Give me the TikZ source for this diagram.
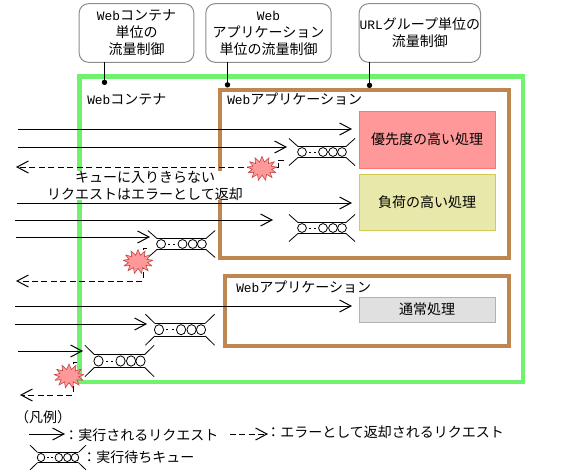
\documentclass[tikz,border=0pt]{standalone}
\usepackage{fontspec}
\setmainfont{Noto Sans CJK JP}
\newfontfamily\latinmono[Scale=0.92]{Liberation Mono}
\newcommand{\lat}[1]{{\latinmono #1}}
\usetikzlibrary{positioning,arrows.meta,shapes.symbols}
\definecolor{verde}{HTML}{6FF36F}
\definecolor{marrom}{HTML}{C0864F}
\definecolor{rosa}{HTML}{FF9999}
\definecolor{rubro}{HTML}{C84C4C}
\definecolor{amarelo}{HTML}{E8E8AA}
\definecolor{cinza}{HTML}{E0E0E0}
\tikzset{
  queue/.pic={
    \draw[line width=.75pt] (-24,-5.5) -- (24,-5.5) (-24,5.5) -- (24,5.5);
    \draw[line width=.6pt] (-33,-13.5) -- (-24,-5.5) (33,-13.5) -- (24,-5.5)
      (-33,13.5) -- (-24,5.5) (33,13.5) -- (24,5.5);
    \foreach \c in {-20,1,11,20} \draw[line width=.6pt] (\c,0) circle[radius=4.4];
    \draw[line width=.75pt] (-13,0) -- (-11,0) (-8,0) -- (-6,0);
  }
}
\begin{document}
\begin{tikzpicture}[x=0.75pt,y=-0.75pt,node distance=9pt,
  txt/.style={font=\fontsize{10.5pt}{12.75pt}\selectfont,inner sep=0pt,align=center},
  callout/.style={txt,rectangle,rounded corners=7pt,draw=black!45,line width=.75pt,minimum height=44pt,outer sep=0pt},
  task/.style={txt,rectangle,line width=.75pt,minimum width=102pt,outer sep=0pt},
  frameg/.style={rectangle,draw=verde,line width=3.4pt,outer sep=0pt},
  framem/.style={rectangle,draw=marrom,line width=3.4pt,outer sep=0pt},
  pinline/.style={-{Circle[length=4pt]},line width=.75pt},
  reqarrow/.style={-{Straight Barb[length=8.5pt,width=9pt]},line width=.75pt},
  errarrow/.style={-{Straight Barb[length=8.5pt,width=9pt]},line width=.75pt,dash pattern=on 4.5pt off 2.6pt},
  burst/.style={starburst,starburst points=13,starburst point height=4pt,random starburst=0,
    fill=rosa,draw=rubro,line width=.5pt,miter limit=3,minimum width=22.5pt,minimum height=18pt,inner sep=0pt}]
\useasboundingbox (0,0) rectangle (564,475);
\node[frameg,minimum width=332.6pt,minimum height=229.1pt] (container) at (301.25,229.25) {};
\node[framem,minimum width=216.75pt,minimum height=126pt] (appa) at (364.5,174) {};
\node[framem,minimum width=213pt,minimum height=52.5pt] (appb) at (367,311) {};
% callouts on top
\node[callout,minimum width=86pt] (unitc) at (136.5,33) {\lat{Web}コンテナ\\単位の\\流量制御};
\node[callout,minimum width=94pt,right=of unitc] (unita) {\lat{Web}\\アプリケーション\\単位の流量制御};
\node[callout,minimum width=91pt,right=21pt of unita] (unitu) {\lat{URL}グループ単位の\\流量制御};
\foreach \n/\px/\py in {unitc/104.5/85,unita/227.5/87.5,unitu/369.5/88}{
  \coordinate (\n-pin) at (\px,\py);
  \draw[pinline] (\n.south -| \n-pin) -- (\n-pin);
}
% tasks
\node[task,fill=rosa,draw=red!55,minimum height=42.75pt] (pri) at (427,139.5) {優先度の高い処理};
\node[task,fill=amarelo,draw=yellow!60!gray,minimum height=42pt,below=4.5pt of pri] (load) {負荷の高い処理};
\node[task,fill=cinza,draw=black!30,minimum height=18.75pt] (norm) at (427,309.5) {通常処理};
\node[txt,anchor=west] (lblc) at (87,99) {\lat{Web}コンテナ};
\node[txt,anchor=west] (lbla) at (227,99) {\lat{Web}アプリケーション};
\node[txt,anchor=west] (lblb) at (236,287) {\lat{Web}アプリケーション};
\node[txt,fill=white,minimum width=200pt,minimum height=20.5pt] (notice) at (145,185.5) {キューに入りきらない\\リクエストはエラーとして返却};
% requests
\foreach \n/\xa/\xb/\yy in {1/18/352/129,2/18/287/147,3/17/352/203,4/15/273/220,5/16/150/237,6/15/352/306,7/15/147/324,8/18/83/351}{
  \coordinate (in\n) at (\xa,\yy);
  \coordinate (out\n) at (\xb,\yy);
  \draw[reqarrow] (in\n) -- (out\n);
}
% errors back
\foreach \n/\ox/\oy/\cx/\ty/\tx in {1/284/160/278/167/16,2/147/248/143/281/16,3/77/362/73/395/20}{
  \coordinate (qerr\n) at (\ox,\oy);
  \coordinate (ret\n) at (\tx,\ty);
  \draw[errarrow] (qerr\n) -| (\cx,\ty) -- (ret\n);
}
\pic at (322,152) {queue};
\pic at (322,228) {queue};
\pic[xscale=1.02] at (181.5,244) {queue};
\pic[xscale=1.05,yscale=1.15] at (180,329.7) {queue};
\pic[xscale=1.05,yscale=1.17] at (119.5,361) {queue};
\node[burst] (err1) at (262,168.5) {};
\node[burst] (err2) at (138,261.7) {};
\node[burst] (err3) at (69,376) {};
% legend
\node[txt] (legend) at (43,417.5) {（凡例）};
\coordinate (legin) at (29,434);
\coordinate (legout) at (65,434);
\draw[reqarrow] (legin) -- (legout);
\node[txt,anchor=west] (legreq) at (64,435) {：実行されるリクエスト};
\coordinate (legein) at (230,434);
\coordinate (legeout) at (268,434);
\draw[errarrow] (legein) -- (legeout);
\node[txt,anchor=west] (legerr) at (266,432) {：エラーとして返却されるリクエスト};
\pic[xscale=.85,yscale=.92] at (58,457.5) {queue};
\node[txt,anchor=west] (legq) at (82,457.5) {：実行待ちキュー};
\end{tikzpicture}
\end{document}
